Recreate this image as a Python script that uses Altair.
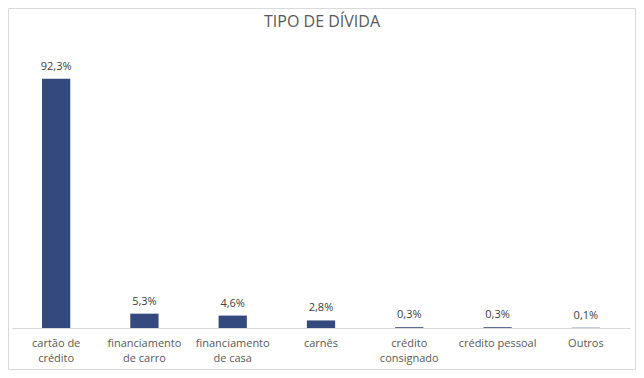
import altair as alt
import pandas as pd

title_text = "TIPO DE DÍVIDA"
categories = ["cartão de\ncrédito", "financiamento\nde carro", "financiamento\nde casa",
              "carnês", "crédito\nconsignado", "crédito pessoal", "Outros"]
values = [92.3, 5.3, 4.6, 2.8, 0.3, 0.3, 0.1]
labels = ["92,3%", "5,3%", "4,6%", "2,8%", "0,3%", "0,3%", "0,1%"]

df = pd.DataFrame({"cat": categories, "val": values, "lab": labels})

FONT = "Open Sans"

x = alt.X("cat:N", sort=categories, title=None,
          scale=alt.Scale(paddingInner=0.68, paddingOuter=0.34),
          axis=alt.Axis(labelAngle=0, labelExpr="split(datum.label, '\\n')",
                        labelColor="#595959", labelFontSize=11, labelFont=FONT,
                        labelPadding=9, labelLineHeight=15, ticks=False,
                        domainColor="#d9d9d9", domainWidth=1, labelLimit=200))
y = alt.Y("val:Q", scale=alt.Scale(domain=[0, 100]), axis=None)

bars = alt.Chart(df).mark_bar(color="#34497E").encode(x=x, y=y)
text = alt.Chart(df).mark_text(dy=-7, baseline="bottom", font=FONT, fontSize=11,
                               color="#404040").encode(x=x, y=y, text="lab:N")
single = alt.Data(values=[{"a": 1}])
border = alt.Chart(single).mark_rect(
    fill=None, stroke="#d9d9d9", strokeWidth=1).encode(
    x=alt.value(-3.5), x2=alt.value(623.5), y=alt.value(-49.5), y2=alt.value(311.5))
title = alt.Chart(single).mark_text(
    font=FONT, fontSize=16, color="#595959", baseline="alphabetic", align="center").encode(
    x=alt.value(310), y=alt.value(-31), text=alt.value(title_text))

chart = alt.layer(border, bars, text, title).properties(
    width=618, height=270,
    autosize=alt.AutoSizeParams(type="none"),
    padding={"left": 4, "top": 50, "right": 6, "bottom": 42},
).configure_view(stroke=None)

chart.save("out.html", embed_options={"renderer": "svg", "actions": False})
